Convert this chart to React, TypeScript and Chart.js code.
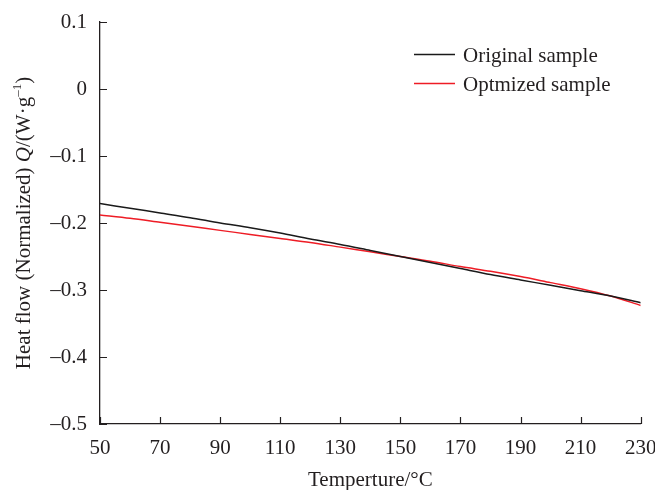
import React, { useEffect, useRef } from "react";
import { Chart, registerables } from "chart.js";

Chart.register(...registerables);

const temperatures = [50, 60, 70, 80, 90, 100, 110, 120, 130, 140, 150, 160, 170, 180, 190, 200, 210, 220, 230];
const originalSample = [-0.171, -0.178, -0.185, -0.192, -0.2, -0.207, -0.215, -0.224, -0.232, -0.241, -0.25, -0.259, -0.268, -0.277, -0.285, -0.293, -0.301, -0.309, -0.319];
const optimizedSample = [-0.188, -0.193, -0.199, -0.205, -0.211, -0.217, -0.223, -0.229, -0.236, -0.243, -0.25, -0.257, -0.265, -0.272, -0.28, -0.289, -0.298, -0.309, -0.323];
const seriesNames = ["Original sample", "Optmized sample"];
const seriesColors = ["#1a1a1a", "#ee1c25"];
const xTitle = "Temperture/°C";

const FONT = '"Liberation Serif", "Times New Roman", serif';
const AXIS = "#231f20";
const FS = 21;

const fmtY = (v: number) => {
  const r = Math.round(v * 10) / 10;
  if (r === 0) return "0";
  const s = Math.abs(r).toFixed(1);
  return r < 0 ? "\u2013" + s : s;
};

const decorPlugin = {
  id: "decor",
  afterDraw(chart: any) {
    const ctx = chart.ctx;
    const xs = chart.scales.x;
    const ys = chart.scales.y;
    const area = chart.chartArea;
    ctx.save();
    // inward ticks
    ctx.strokeStyle = AXIS;
    ctx.lineWidth = 1.2;
    ctx.beginPath();
    xs.ticks.forEach((t: any) => {
      const px = Math.round(xs.getPixelForValue(t.value)) + 0.5;
      ctx.moveTo(px, area.bottom);
      ctx.lineTo(px, area.bottom - 7);
    });
    ys.ticks.forEach((t: any) => {
      const py = Math.round(ys.getPixelForValue(t.value)) + 0.5;
      ctx.moveTo(area.left, py);
      ctx.lineTo(area.left + 7, py);
    });
    ctx.stroke();

    // legend
    const legendY = [54.5, 83.5];
    const baseY = [62, 91];
    ctx.font = `${FS}px ${FONT}`;
    ctx.textBaseline = "alphabetic";
    ctx.textAlign = "left";
    seriesNames.forEach((name, i) => {
      ctx.strokeStyle = seriesColors[i];
      ctx.lineWidth = 1.4;
      ctx.beginPath();
      ctx.moveTo(414, legendY[i]);
      ctx.lineTo(455, legendY[i]);
      ctx.stroke();
      ctx.fillStyle = "#231f20";
      ctx.fillText(name, 463, baseY[i]);
    });

    // x title
    ctx.textAlign = "center";
    ctx.fillText(xTitle, (area.left + area.right) / 2, 486);

    // y title (rotated, mixed styles)
    const parts: { t: string; f: string; dy: number }[] = [
      { t: "Heat flow (Normalized) ", f: `${FS}px ${FONT}`, dy: 0 },
      { t: "Q", f: `italic ${FS}px ${FONT}`, dy: 0 },
      { t: "/(W\u00b7g", f: `${FS}px ${FONT}`, dy: 0 },
      { t: "\u2013", f: `13px ${FONT}`, dy: -9 },
      { t: "1", f: `13px ${FONT}`, dy: -9 },
      { t: ")", f: `${FS}px ${FONT}`, dy: 0 },
    ];
    let total = 0;
    const widths = parts.map((p) => {
      ctx.font = p.f;
      const w = ctx.measureText(p.t).width;
      total += w;
      return w;
    });
    ctx.translate(30, (area.top + area.bottom) / 2);
    ctx.rotate(-Math.PI / 2);
    ctx.textAlign = "left";
    let x = -total / 2;
    parts.forEach((p, i) => {
      ctx.font = p.f;
      ctx.fillText(p.t, x, p.dy);
      x += widths[i];
    });
    ctx.restore();
  },
};

export default function App() {
  const ref = useRef<HTMLCanvasElement | null>(null);
  useEffect(() => {
    if (!ref.current) return;
    const chart = new Chart(ref.current, {
      type: "line",
      data: {
        labels: temperatures,
        datasets: [
          {
            label: seriesNames[0],
            data: temperatures.map((t, i) => ({ x: t, y: originalSample[i] })),
            borderColor: seriesColors[0],
            borderWidth: 1.5,
            pointRadius: 0,
            tension: 0.3,
            fill: false,
          },
          {
            label: seriesNames[1],
            data: temperatures.map((t, i) => ({ x: t, y: optimizedSample[i] })),
            borderColor: seriesColors[1],
            borderWidth: 1.5,
            pointRadius: 0,
            tension: 0.3,
            fill: false,
          },
        ],
      },
      options: {
        animation: false,
        responsive: false,
        maintainAspectRatio: false,
        devicePixelRatio: 1,
        layout: { padding: { left: 0, top: 22, right: 29.3, bottom: 0 } },
        plugins: { legend: { display: false }, tooltip: { enabled: false }, title: { display: false } },
        scales: {
          x: {
            type: "linear",
            min: 50,
            max: 230,
            grid: { display: false },
            border: { display: true, color: AXIS, width: 1.3 },
            ticks: {
              stepSize: 20,
              padding: 4,
              color: "#231f20",
              font: { family: FONT, size: FS },
              maxRotation: 0,
              autoSkip: false,
            },
            afterFit: (s: any) => {
              s.height = 66;
            },
          },
          y: {
            type: "linear",
            min: -0.5,
            max: 0.1,
            grid: { display: false },
            border: { display: true, color: AXIS, width: 1.3 },
            ticks: {
              stepSize: 0.1,
              padding: 5,
              color: "#231f20",
              font: { family: FONT, size: FS },
              callback: (v: any) => fmtY(Number(v)),
            },
            afterFit: (s: any) => {
              s.width = 100;
            },
          },
        },
      },
      plugins: [decorPlugin],
    });
    return () => chart.destroy();
  }, []);
  return (
    <div style={{ position: "absolute", left: 0, top: 0, width: 655, height: 490, overflow: "hidden", background: "#fff" }}>
      <canvas ref={ref} width={670} height={490} style={{ width: 670, height: 490, display: "block" }} />
    </div>
  );
}
